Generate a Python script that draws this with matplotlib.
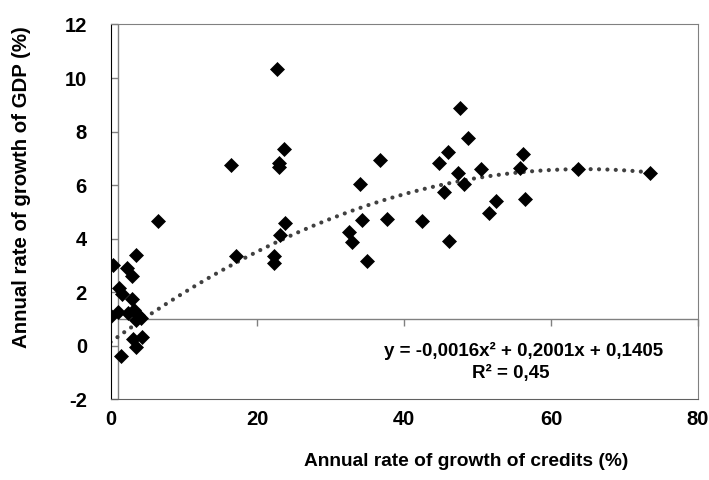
import numpy as np
import matplotlib.pyplot as plt
from matplotlib.lines import TICKLEFT, TICKDOWN

plt.rcParams['font.family'] = ['Liberation Sans', 'DejaVu Sans']
plt.rcParams['font.weight'] = 'bold'
plt.rcParams['axes.unicode_minus'] = False

# annual growth of credits (%) vs annual growth of GDP (%)
credit_growth = [0.1, 0.3, 3.4, 2.3, 2.9, 1.2, 1.5, 2.9, 1.0, 2.35, 3.2, 3.75,
                 3.5, 4.1, 3.0, 4.3, 3.5, 1.45, 6.4, 17.05, 22.3, 22.2, 23.1,
                 23.7, 16.4, 22.9, 22.9, 23.6, 22.7, 36.7, 33.9, 34.2, 37.7,
                 32.4, 32.9, 34.9, 42.4, 46.1, 44.7, 46.0, 48.65, 47.3, 45.35,
                 48.1, 50.4, 47.6, 56.2, 55.7, 56.4, 52.5, 51.6, 63.6, 73.5]
gdp_growth = [1.1, 3.0, 3.4, 2.9, 2.6, 2.17, 1.95, 1.73, 1.27, 1.24, 1.32, 1.16,
              0.97, 1.03, 0.25, 0.32, -0.05, -0.37, 4.65, 3.35, 3.35, 3.1, 4.13,
              4.6, 6.75, 6.82, 6.67, 7.35, 10.35, 6.95, 6.06, 4.69, 4.75,
              4.25, 3.87, 3.17, 4.66, 3.9, 6.84, 7.24, 7.77, 6.47, 5.76,
              6.06, 6.6, 8.88, 7.18, 6.63, 5.5, 5.41, 4.97, 6.62, 6.47]

# label shows rounded coefficients; curve in the picture fits -0.00155
trend_coefs = [-0.00155, 0.2001, 0.1405]
trend_label = 'y = -0,0016x² + 0,2001x + 0,1405'
r2_label = 'R² = 0,45'

x_ticks = [0, 20, 40, 60, 80]
y_ticks = [-2, 0, 2, 4, 6, 8, 10, 12]

fig = plt.figure(figsize=(7.09, 4.8), dpi=100)
ax = fig.add_axes([0.156, 0.168, 0.8285, 0.781])
ax.set_xlim(0, 80)
ax.set_ylim(-2, 12)

# axes crossing at x=1 / y=1 like the original
ax.plot([1, 1], [-2, 12], color='#808080', lw=1, zorder=1)
ax.plot([1, 80], [1, 1], color='#808080', lw=1, zorder=1)
ax.plot([1] * len(y_ticks), y_ticks, ls='none', marker=TICKLEFT,
        markersize=5, color='#808080', markeredgewidth=1, clip_on=False)
ax.plot(x_ticks[1:], [1] * (len(x_ticks) - 1), ls='none', marker=TICKDOWN,
        markersize=5, color='#808080', markeredgewidth=1, clip_on=False)

# polynomial trend line
xs = np.linspace(0, max(credit_growth), 200)
ax.plot(xs, np.polyval(trend_coefs, xs), color='#404040', lw=3,
        ls=(0, (0.01, 2.0)), dash_capstyle='round', zorder=2)

ax.plot(credit_growth, gdp_growth, ls='none', marker='D', markersize=7.5,
        color='black', markeredgecolor='black', markeredgewidth=0.5, zorder=3)

ax.set_xticks(x_ticks)
ax.set_yticks(y_ticks)
ax.tick_params(axis='both', length=0, labelsize=14.5)
ax.tick_params(axis='y', pad=17)
ax.tick_params(axis='x', pad=8)

for side in ['top', 'right']:
    ax.spines[side].set_color('#808080')
ax.spines['left'].set_color('black')
ax.spines['bottom'].set_color('#606060')

ax.text(524 / 709, 1 - 351 / 480, trend_label, transform=fig.transFigure,
        ha='center', va='center', fontsize=13.5, fontweight='bold')
ax.text(511 / 709, 1 - 373 / 480, r2_label, transform=fig.transFigure,
        ha='center', va='center', fontsize=13.5, fontweight='bold')

fig.text(466 / 709, 1 - 461 / 480, 'Annual rate of growth of credits (%)',
         ha='center', va='center', fontsize=13.8, fontweight='bold')
fig.text(22 / 709, 1 - 187 / 480, 'Annual rate of growth of GDP (%)',
         ha='center', va='center', rotation=90, fontsize=14.7, fontweight='bold')

fig.savefig('out.png', dpi=100)
